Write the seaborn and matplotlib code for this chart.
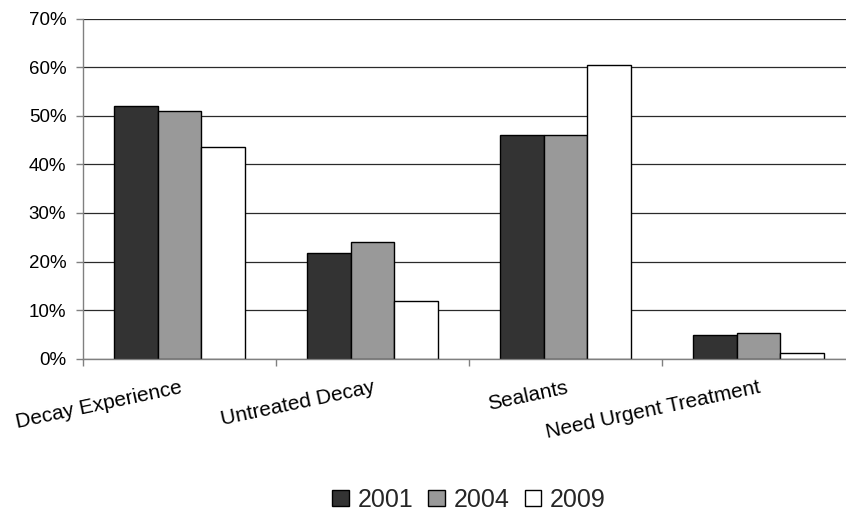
import matplotlib
matplotlib.use("Agg")
import matplotlib.pyplot as plt
import seaborn as sns
import pandas as pd
from matplotlib.ticker import PercentFormatter, FixedLocator

sns.set_theme(style="white")
plt.rcParams['font.family'] = ['Liberation Sans', 'DejaVu Sans']

# Data
categories = ["Decay Experience", "Untreated Decay", "Sealants", "Need Urgent Treatment"]
years = ["2001", "2004", "2009"]
pct_2001 = [52.0, 21.7, 46.0, 4.9]
pct_2004 = [50.9, 24.1, 46.0, 5.3]
pct_2009 = [43.6, 11.9, 60.4, 1.2]

df = pd.DataFrame({
    "category": categories * 3,
    "year": [y for y in years for _ in categories],
    "value": pct_2001 + pct_2004 + pct_2009,
})

colors = {"2001": "#333333", "2004": "#999999", "2009": "#ffffff"}

fig = plt.figure(figsize=(8.46, 5.12), dpi=100)
ax = fig.add_axes([83 / 846, 1 - 358.7 / 512, 772 / 846, (358.7 - 18.5) / 512])

sns.barplot(data=df, x="category", y="value", hue="year", order=categories,
            hue_order=years, palette=colors, width=0.68, edgecolor="black",
            linewidth=1.0, ax=ax, legend=True)

ax.set_ylim(0, 70)
ax.set_xlim(-0.5, 3.5)
ax.set_yticks(range(0, 71, 10))
ax.yaxis.set_major_formatter(PercentFormatter(decimals=0))
ax.yaxis.grid(True, color="#2a2a2a", linewidth=0.9)
ax.set_axisbelow(True)
ax.set_xlabel("")
ax.set_ylabel("")

for s in ["top", "right"]:
    ax.spines[s].set_visible(False)
for s in ["left", "bottom"]:
    ax.spines[s].set_color("#808080")
    ax.spines[s].set_linewidth(1.0)

ax.tick_params(axis="y", which="major", left=True, length=5, width=1,
               color="#808080", labelsize=13.5, pad=7, labelcolor="black")
ax.xaxis.set_minor_locator(FixedLocator([-0.5, 0.5, 1.5, 2.5, 3.5]))
ax.tick_params(axis="x", which="minor", bottom=True, length=5, width=1, color="#808080")
ax.tick_params(axis="x", which="major", length=0, labelsize=15, pad=14, labelcolor="black")
plt.setp(ax.get_xticklabels(), rotation=12, ha="right", va="top", rotation_mode="anchor")

handles, labels = ax.get_legend_handles_labels()
ax.get_legend().remove()
fig.legend(handles, labels, loc="center", bbox_to_anchor=(469 / 846, 1 - 500 / 512),
           ncol=3, frameon=False, fontsize=18, handlelength=0.66, handleheight=0.58,
           handletextpad=0.35, columnspacing=0.6, borderpad=0.1)

fig.savefig("out.png", dpi=100)
